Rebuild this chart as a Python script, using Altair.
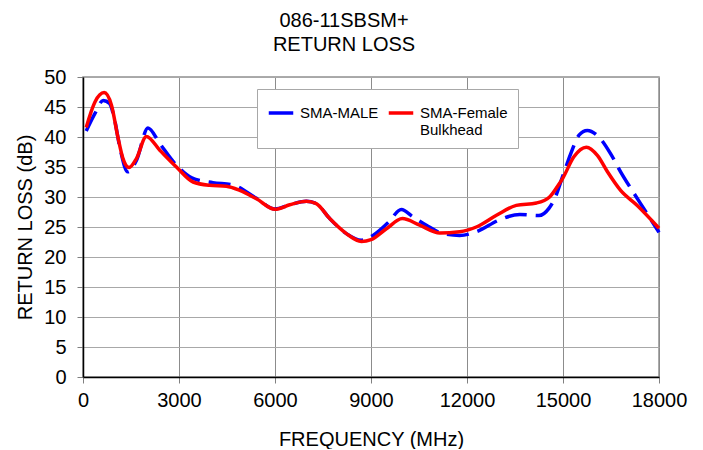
import altair as alt
import pandas as pd

# ---- data ----
male_freq = [100, 370, 630, 830, 990, 1150, 1400, 1670, 2030, 2400, 2920, 3400, 4060, 4690,
             5420, 6000, 6460, 6980, 7290, 7710, 8230, 8700, 9060, 9530, 9950, 10310, 10730,
             11250, 11770, 12290, 13020, 13650, 14250, 14560, 14720, 15000, 15240, 15500,
             15760, 16120, 16490, 16800, 17220, 17630, 18000]
male_rl = [41.0, 43.9, 46.1, 45.6, 42.8, 38.3, 34.2, 36.1, 41.5, 38.9, 35.3, 33.2, 32.4, 32.0,
           29.8, 28.0, 28.7, 29.3, 28.9, 26.4, 23.9, 22.8, 23.6, 25.7, 27.9, 26.7, 25.3,
           23.9, 23.6, 24.2, 26.2, 27.1, 26.9, 28.1, 29.5, 33.6, 37.2, 40.3,
           41.1, 40.0, 37.2, 34.2, 30.6, 27.2, 24.1]

fem_freq = [100, 370, 660, 890, 1090, 1250, 1440, 1670, 1980, 2400, 2920, 3440, 3960, 4480,
            4900, 5420, 6000, 6460, 6980, 7290, 7710, 8230, 8700, 9000, 9480, 9980, 10520,
            11150, 11770, 12290, 12920, 13540, 14170, 14580, 14820, 15000, 15340, 15730,
            16080, 16390, 16800, 17320, 18000]
fem_rl = [41.6, 45.8, 47.4, 45.3, 40.0, 36.4, 34.9, 36.4, 40.1, 37.8, 35.0, 32.5, 31.95, 31.8,
          31.1, 29.7, 27.95, 28.7, 29.3, 28.9, 26.4, 23.9, 22.6, 22.9, 24.7, 26.4, 25.3,
          24.0, 24.2, 25.0, 26.95, 28.6, 29.0, 30.0, 31.7, 33.2, 36.7, 38.3,
          36.9, 34.2, 31.1, 28.6, 24.8]

series_names = ["SMA-MALE", "SMA-Female Bulkhead"]
series_colors = ["#0000ff", "#ff0000"]
x_ticks = [0, 3000, 6000, 9000, 12000, 15000, 18000]
y_ticks = [0, 5, 10, 15, 20, 25, 30, 35, 40, 45, 50]
title_lines = ["086-11SBSM+", "RETURN LOSS"]

df_m = pd.DataFrame({"freq": male_freq, "rl": male_rl, "series": series_names[0]})
df_f = pd.DataFrame({"freq": fem_freq, "rl": fem_rl, "series": series_names[1]})

FONT = "Liberation Sans"

x_enc = alt.X("freq:Q",
              scale=alt.Scale(domain=[0, 18000], nice=False, zero=False),
              axis=alt.Axis(values=x_ticks, title="FREQUENCY (MHz)", format="d",
                            labelFlush=False, labelPadding=7, titleY=68,
                            titleBaseline="alphabetic", gridColor="#8c8c8c"))
y_enc = alt.Y("rl:Q",
              scale=alt.Scale(domain=[0, 50], nice=False),
              axis=alt.Axis(values=y_ticks, title="RETURN LOSS (dB)", labelFlush=False,
                            labelPadding=11, titleX=-51.5, titleBaseline="alphabetic",
                            gridColor="#a8a8a8"))

color_enc = alt.Color(
    "series:N",
    scale=alt.Scale(domain=series_names, range=series_colors),
    legend=alt.Legend(
        title=None, orient="none", legendX=174, legendY=12, direction="horizontal",
        symbolType="M-1,0H1", symbolStrokeWidth=3.5, symbolSize=600,
        labelFont=FONT, labelFontSize=15, labelColor="black", labelLimit=250,
        labelExpr="datum.label == 'SMA-Female Bulkhead' ? ['SMA-Female', 'Bulkhead'] : [datum.label, '']",
        labelBaseline="middle", labelOffset=5, columnPadding=2, padding=10,
        strokeColor="#a8a8a8", fillColor="white"),
)

male = alt.Chart(df_m).mark_line(strokeWidth=3.5, strokeDash=[22, 9], interpolate="monotone").encode(
    x=x_enc, y=y_enc, color=color_enc)
fem = alt.Chart(df_f).mark_line(strokeWidth=3.5, interpolate="monotone").encode(
    x=x_enc, y=y_enc, color=color_enc)

chart = alt.layer(male, fem).properties(
    width=576, height=300,
    autosize=alt.AutoSizeParams(type="none"),
    padding={"left": 75, "top": 69, "right": 36, "bottom": 72},
    title=alt.TitleParams(text=title_lines, font=FONT, fontSize=20, fontWeight="normal",
                          color="black", anchor="middle", dx=-27, baseline="top",
                          offset=12, lineHeight=24),
).configure_view(
    stroke="#909090", strokeWidth=1.5
).configure_axis(
    labelFont=FONT, labelFontSize=20, labelColor="black",
    titleFont=FONT, titleFontSize=20, titleFontWeight="normal", titleColor="black",
    domainColor="black", domainWidth=1.5, tickColor="#808080", tickSize=6,
    gridWidth=1, gridOpacity=1,
)

chart.save("out.html", embed_options={"renderer": "svg", "actions": False})
